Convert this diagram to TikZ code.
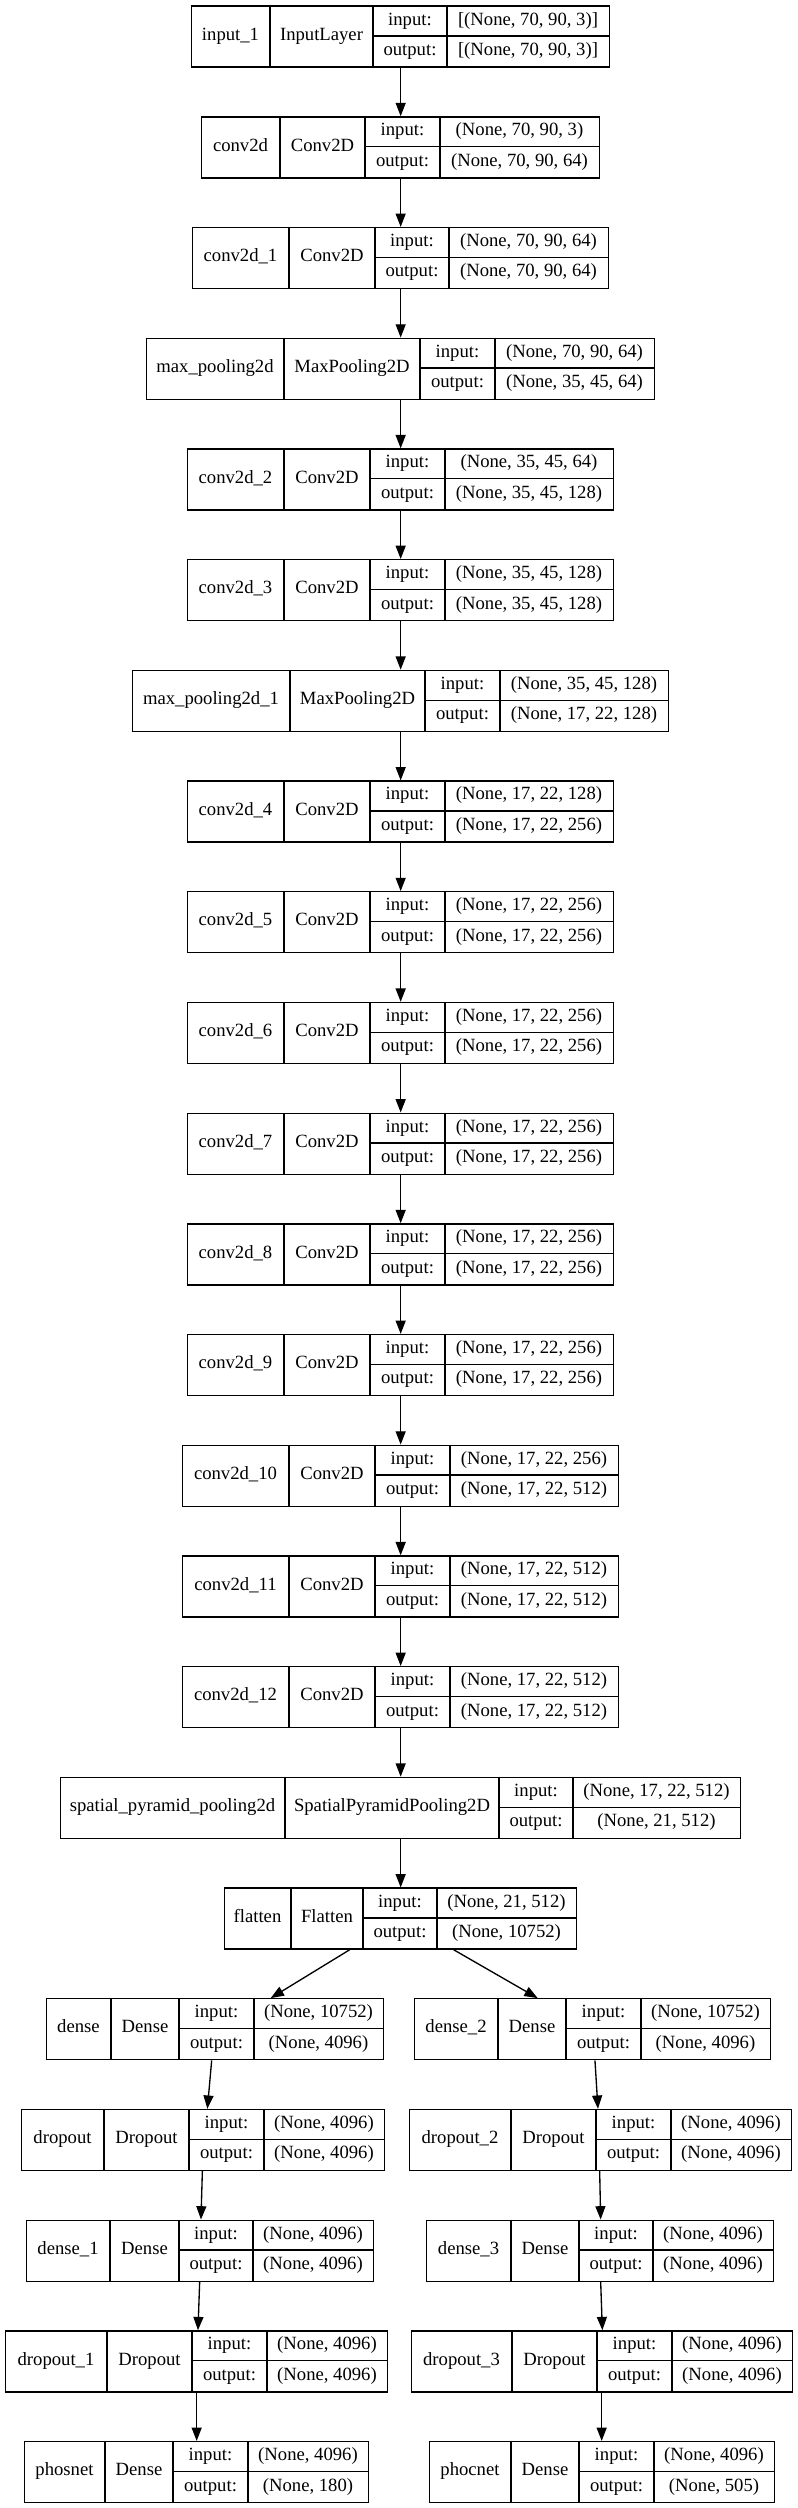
\documentclass[tikz,border=0pt]{standalone}
\usepackage{fontspec}
\setmainfont{Liberation Serif}
\usetikzlibrary{arrows.meta,calc}
\tikzset{
  box/.style={draw=black, line width=1pt, inner sep=0pt, minimum height=45.75pt},
  sep/.style={draw=black, line width=1pt},
  txt/.style={inner sep=0pt, text height=9.5pt, text depth=3pt, font=\fontsize{14pt}{16pt}\selectfont},
  arr/.style={draw=black, line width=1pt, -{Triangle[length=10pt,width=7.5pt]}}
}
\newcommand\nnlayer[7]{\def\Lname{#1}\pgfmathsetmacro\Ly{5.5+110.7*#2}\def\La{#3}\def\Lb{#4}\def\Lc{#5}\def\Ld{#6}\def\Le{#7}\nnlayertext}
\newcommand\nnlayertext[4]{%
  \pgfmathsetmacro\Lw{(\Le-\La)*0.75}%
  \node[box, minimum width=\Lw pt, anchor=north west] (\Lname) at (\La,\Ly) {};
  \draw[sep] (\Lb,\Ly) -- ++(0,61) (\Lc,\Ly) -- ++(0,61) (\Ld,\Ly) -- ++(0,61) (\Lc,\Ly+30.5) -- (\Le,\Ly+30.5);
  \node[txt] (\Lname-n) at ({(\La+\Lb)/2},\Ly+30.5) {#1};
  \node[txt] (\Lname-c) at ({(\Lb+\Lc)/2},\Ly+30.5) {#2};
  \node[txt] (\Lname-il) at ({(\Lc+\Ld)/2},\Ly+15.25) {input:};
  \node[txt] (\Lname-ol) at ({(\Lc+\Ld)/2},\Ly+45.75) {output:};
  \node[txt] (\Lname-iv) at ({(\Ld+\Le)/2},\Ly+15.25) {#3};
  \node[txt] (\Lname-ov) at ({(\Ld+\Le)/2},\Ly+45.75) {#4};
}
\begin{document}
\begin{tikzpicture}[x=0.75pt,y=-0.75pt]
\fill[white] (0,0) rectangle (797,2508);
\useasboundingbox (0,0) rectangle (797,2508);
% main chain
\nnlayer{L0}{0}{191}{270}{373}{447}{609}{input\_1}{InputLayer}{[(None, 70, 90, 3)]}{[(None, 70, 90, 3)]}
\nnlayer{L1}{1}{201}{280}{365}{440}{599}{conv2d}{Conv2D}{(None, 70, 90, 3)}{(None, 70, 90, 64)}
\nnlayer{L2}{2}{192}{289}{375}{449}{608}{conv2d\_1}{Conv2D}{(None, 70, 90, 64)}{(None, 70, 90, 64)}
\nnlayer{L3}{3}{146}{284}{420}{495}{654}{max\_pooling2d}{MaxPooling2D}{(None, 70, 90, 64)}{(None, 35, 45, 64)}
\nnlayer{L4}{4}{187}{284}{370}{445}{613}{conv2d\_2}{Conv2D}{(None, 35, 45, 64)}{(None, 35, 45, 128)}
\nnlayer{L5}{5}{187}{284}{370}{445}{613}{conv2d\_3}{Conv2D}{(None, 35, 45, 128)}{(None, 35, 45, 128)}
\nnlayer{L6}{6}{132}{290}{425}{500}{668}{max\_pooling2d\_1}{MaxPooling2D}{(None, 35, 45, 128)}{(None, 17, 22, 128)}
\nnlayer{L7}{7}{187}{284}{370}{445}{613}{conv2d\_4}{Conv2D}{(None, 17, 22, 128)}{(None, 17, 22, 256)}
\nnlayer{L8}{8}{187}{284}{370}{445}{613}{conv2d\_5}{Conv2D}{(None, 17, 22, 256)}{(None, 17, 22, 256)}
\nnlayer{L9}{9}{187}{284}{370}{445}{613}{conv2d\_6}{Conv2D}{(None, 17, 22, 256)}{(None, 17, 22, 256)}
\nnlayer{L10}{10}{187}{284}{370}{445}{613}{conv2d\_7}{Conv2D}{(None, 17, 22, 256)}{(None, 17, 22, 256)}
\nnlayer{L11}{11}{187}{284}{370}{445}{613}{conv2d\_8}{Conv2D}{(None, 17, 22, 256)}{(None, 17, 22, 256)}
\nnlayer{L12}{12}{187}{284}{370}{445}{613}{conv2d\_9}{Conv2D}{(None, 17, 22, 256)}{(None, 17, 22, 256)}
\nnlayer{L13}{13}{182}{289}{375}{450}{618}{conv2d\_10}{Conv2D}{(None, 17, 22, 256)}{(None, 17, 22, 512)}
\nnlayer{L14}{14}{182}{289}{375}{450}{618}{conv2d\_11}{Conv2D}{(None, 17, 22, 512)}{(None, 17, 22, 512)}
\nnlayer{L15}{15}{182}{289}{375}{450}{618}{conv2d\_12}{Conv2D}{(None, 17, 22, 512)}{(None, 17, 22, 512)}
\nnlayer{L16}{16}{60}{285}{499}{573}{740}{spatial\_pyramid\_pooling2d}{SpatialPyramidPooling2D}{(None, 17, 22, 512)}{(None, 21, 512)}
\nnlayer{L17}{17}{224}{291}{363}{437}{576}{flatten}{Flatten}{(None, 21, 512)}{(None, 10752)}
% left branch
\nnlayer{L18}{18}{46}{111}{179}{254}{383}{dense}{Dense}{(None, 10752)}{(None, 4096)}
\nnlayer{L19}{19}{21}{104}{189}{264}{384}{dropout}{Dropout}{(None, 4096)}{(None, 4096)}
\nnlayer{L20}{20}{26}{110}{179}{253}{373}{dense\_1}{Dense}{(None, 4096)}{(None, 4096)}
\nnlayer{L21}{21}{5}{107}{192}{267}{387}{dropout\_1}{Dropout}{(None, 4096)}{(None, 4096)}
\nnlayer{L22}{22}{24}{105}{173}{248}{368}{phosnet}{Dense}{(None, 4096)}{(None, 180)}
% right branch
\nnlayer{R18}{18}{414}{498}{566}{641}{770}{dense\_2}{Dense}{(None, 10752)}{(None, 4096)}
\nnlayer{R19}{19}{409}{511}{596}{671}{791}{dropout\_2}{Dropout}{(None, 4096)}{(None, 4096)}
\nnlayer{R20}{20}{426}{511}{579}{653}{773}{dense\_3}{Dense}{(None, 4096)}{(None, 4096)}
\nnlayer{R21}{21}{411}{512}{597}{672}{792}{dropout\_3}{Dropout}{(None, 4096)}{(None, 4096)}
\nnlayer{R22}{22}{429}{511}{579}{654}{774}{phocnet}{Dense}{(None, 4096)}{(None, 505)}
% connectors
\foreach \i in {1,...,17} {\pgfmathtruncatemacro\p{\i-1}\draw[arr] (L\p) -- (L\i);}
\draw[arr] ($(L17.south)+(-51,0)$) -- ($(L18.north)+(55.5,0)$);
\draw[arr] ($(L17.south)+(53,0)$) -- ($(R18.north)+(-55,0)$);
\draw[arr] ($(L18.south)+(-3.5,0)$) -- ($(L19.north)+(4.2,0)$);
\draw[arr] ($(L19.south)+(-0.8,0)$) -- ($(L20.north)+(0.8,0)$);
\draw[arr] ($(L20.south)+(-0.5,0)$) -- ($(L21.north)+(1.3,0)$);
\draw[arr] (L21.south) -- (L22.north);
\draw[arr] ($(R18.south)+(2.3,0)$) -- ($(R19.north)+(-2.7,0)$);
\draw[arr] ($(R19.south)+(-1,0)$) -- ($(R20.north)+(0.5,0)$);
\draw[arr] ($(R20.south)+(0.5,0)$) -- ($(R21.north)+(0.2,0)$);
\draw[arr] ($(R21.south)+(-0.5,0)$) -- ($(R22.north)+(-0.5,0)$);
\end{tikzpicture}
\end{document}
